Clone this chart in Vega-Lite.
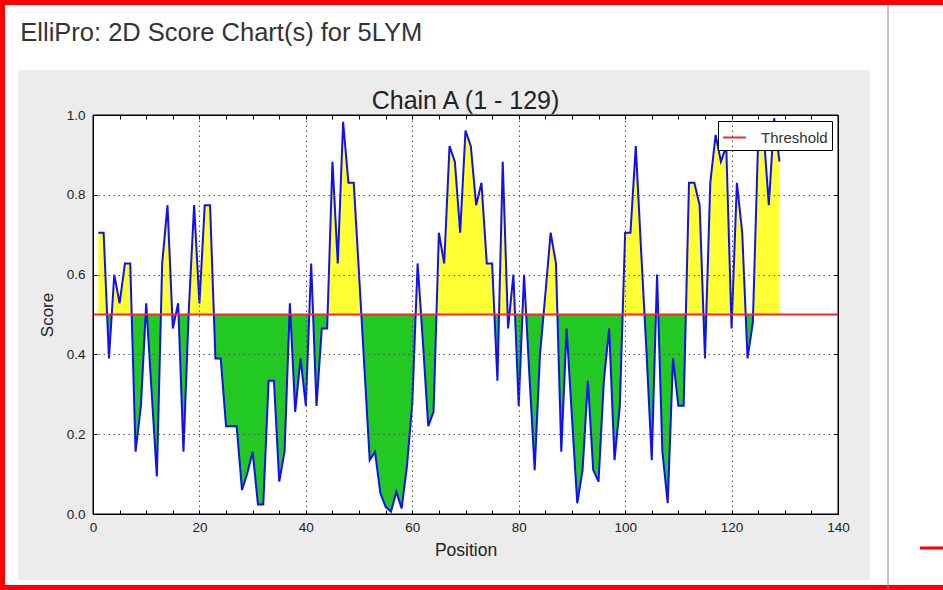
{
  "$schema": "https://vega.github.io/schema/vega-lite/v6.json",
  "autosize": "none",
  "width": 745,
  "height": 399,
  "padding": {"left": 93, "top": 115, "right": 105, "bottom": 76},
  "background": "white",
  "config": {
    "view": {"stroke": null},
    "font": "Liberation Sans"
  },
  "data": {
    "values": [
      {"position": 1, "score": 0.705}, {"position": 2, "score": 0.705}, {"position": 3, "score": 0.39}, {"position": 4, "score": 0.6},
      {"position": 5, "score": 0.528}, {"position": 6, "score": 0.628}, {"position": 7, "score": 0.628}, {"position": 8, "score": 0.156},
      {"position": 9, "score": 0.27}, {"position": 10, "score": 0.528}, {"position": 11, "score": 0.31}, {"position": 12, "score": 0.094},
      {"position": 13, "score": 0.628}, {"position": 14, "score": 0.774}, {"position": 15, "score": 0.465}, {"position": 16, "score": 0.528},
      {"position": 17, "score": 0.156}, {"position": 18, "score": 0.51}, {"position": 19, "score": 0.774}, {"position": 20, "score": 0.528},
      {"position": 21, "score": 0.774}, {"position": 22, "score": 0.774}, {"position": 23, "score": 0.39}, {"position": 24, "score": 0.39},
      {"position": 25, "score": 0.22}, {"position": 26, "score": 0.22}, {"position": 27, "score": 0.22}, {"position": 28, "score": 0.06},
      {"position": 29, "score": 0.102}, {"position": 30, "score": 0.156}, {"position": 31, "score": 0.024}, {"position": 32, "score": 0.024},
      {"position": 33, "score": 0.334}, {"position": 34, "score": 0.334}, {"position": 35, "score": 0.081}, {"position": 36, "score": 0.156},
      {"position": 37, "score": 0.528}, {"position": 38, "score": 0.256}, {"position": 39, "score": 0.39}, {"position": 40, "score": 0.271},
      {"position": 41, "score": 0.628}, {"position": 42, "score": 0.271}, {"position": 43, "score": 0.465}, {"position": 44, "score": 0.465},
      {"position": 45, "score": 0.883}, {"position": 46, "score": 0.628}, {"position": 47, "score": 0.983}, {"position": 48, "score": 0.83},
      {"position": 49, "score": 0.83}, {"position": 50, "score": 0.6}, {"position": 51, "score": 0.367}, {"position": 52, "score": 0.135},
      {"position": 53, "score": 0.156}, {"position": 54, "score": 0.052}, {"position": 55, "score": 0.018}, {"position": 56, "score": 0.006},
      {"position": 57, "score": 0.056}, {"position": 58, "score": 0.014}, {"position": 59, "score": 0.12}, {"position": 60, "score": 0.278},
      {"position": 61, "score": 0.628}, {"position": 62, "score": 0.43}, {"position": 63, "score": 0.22}, {"position": 64, "score": 0.256},
      {"position": 65, "score": 0.705}, {"position": 66, "score": 0.628}, {"position": 67, "score": 0.922}, {"position": 68, "score": 0.883},
      {"position": 69, "score": 0.705}, {"position": 70, "score": 0.961}, {"position": 71, "score": 0.922}, {"position": 72, "score": 0.774},
      {"position": 73, "score": 0.83}, {"position": 74, "score": 0.628}, {"position": 75, "score": 0.628}, {"position": 76, "score": 0.334},
      {"position": 77, "score": 0.883}, {"position": 78, "score": 0.465}, {"position": 79, "score": 0.6}, {"position": 80, "score": 0.271},
      {"position": 81, "score": 0.6}, {"position": 82, "score": 0.35}, {"position": 83, "score": 0.11}, {"position": 84, "score": 0.4},
      {"position": 85, "score": 0.55}, {"position": 86, "score": 0.705}, {"position": 87, "score": 0.628}, {"position": 88, "score": 0.156},
      {"position": 89, "score": 0.465}, {"position": 90, "score": 0.244}, {"position": 91, "score": 0.027}, {"position": 92, "score": 0.11},
      {"position": 93, "score": 0.334}, {"position": 94, "score": 0.11}, {"position": 95, "score": 0.081}, {"position": 96, "score": 0.334},
      {"position": 97, "score": 0.465}, {"position": 98, "score": 0.135}, {"position": 99, "score": 0.271}, {"position": 100, "score": 0.705},
      {"position": 101, "score": 0.705}, {"position": 102, "score": 0.922}, {"position": 103, "score": 0.66}, {"position": 104, "score": 0.41},
      {"position": 105, "score": 0.135}, {"position": 106, "score": 0.6}, {"position": 107, "score": 0.156}, {"position": 108, "score": 0.027},
      {"position": 109, "score": 0.39}, {"position": 110, "score": 0.271}, {"position": 111, "score": 0.271}, {"position": 112, "score": 0.83},
      {"position": 113, "score": 0.83}, {"position": 114, "score": 0.774}, {"position": 115, "score": 0.39}, {"position": 116, "score": 0.83},
      {"position": 117, "score": 0.95}, {"position": 118, "score": 0.883}, {"position": 119, "score": 0.922}, {"position": 120, "score": 0.465},
      {"position": 121, "score": 0.83}, {"position": 122, "score": 0.705}, {"position": 123, "score": 0.39}, {"position": 124, "score": 0.48},
      {"position": 125, "score": 0.94}, {"position": 126, "score": 0.96}, {"position": 127, "score": 0.774}, {"position": 128, "score": 0.992},
      {"position": 129, "score": 0.883}
    ]
  },
  "resolve": {"axis": {"x": "independent", "y": "independent"}},
  "layer": [
    {
      "data": {"values": [{}]},
      "mark": {"type": "rect", "fillOpacity": 0, "stroke": "#ff0000", "strokeWidth": 5},
      "encoding": {
        "x": {"datum": -17.0, "type": "quantitative", "scale": {"domain": [0, 140], "nice": false, "zero": false}, "axis": null},
        "x2": {"datum": 163},
        "y": {"datum": 1.282, "type": "quantitative", "scale": {"domain": [0, 1], "nice": false, "zero": false}, "axis": null},
        "y2": {"datum": -0.1842}
      }
    },
    {
      "data": {"values": [{}]},
      "mark": {"type": "rect", "fill": "#ececec"},
      "encoding": {
        "x": {"datum": -14.09, "type": "quantitative", "axis": null},
        "x2": {"datum": 146.0},
        "y": {"datum": 1.1128, "type": "quantitative", "axis": null},
        "y2": {"datum": -0.1654}
      }
    },
    {
      "data": {"values": [{}]},
      "mark": {"type": "rect", "fill": "white", "stroke": "black", "strokeWidth": 1},
      "encoding": {
        "x": {"datum": 0, "type": "quantitative", "axis": null},
        "x2": {"datum": 140},
        "y": {"datum": 1, "type": "quantitative", "axis": null},
        "y2": {"datum": 0}
      }
    },
    {
      "data": {"values": [{}]},
      "mark": {"type": "rule", "stroke": "#8a8a8a", "strokeWidth": 1},
      "encoding": {
        "x": {"datum": 149.4, "type": "quantitative", "axis": null},
        "y": {"datum": 1.276, "type": "quantitative", "axis": null},
        "y2": {"datum": -0.19}
      }
    },
    {
      "data": {"values": [{}]},
      "mark": {"type": "rule", "stroke": "#ff0000", "strokeWidth": 3},
      "encoding": {
        "x": {"datum": 155.4, "type": "quantitative", "axis": null},
        "x2": {"datum": 163},
        "y": {"datum": -0.0852, "type": "quantitative", "axis": null}
      }
    },
    {
      "mark": {
        "type": "area",
        "color": {
          "gradient": "linear", "x1": 0, "y1": 0, "x2": 0, "y2": 1,
          "stops": [
            {"offset": 0, "color": "#ffff33"},
            {"offset": 0.499, "color": "#ffff33"},
            {"offset": 0.499, "color": "#22c922"},
            {"offset": 1, "color": "#22c922"}
          ]
        }
      },
      "encoding": {
        "x": {
          "field": "position", "type": "quantitative",
          "axis": {
            "zindex": 1,
            "orient": "bottom", "values": [0, 5, 10, 15, 20, 25, 30, 35, 40, 45, 50, 55, 60, 65, 70, 75, 80, 85, 90, 95, 100, 105, 110, 115, 120, 125, 130, 135, 140],
            "labelExpr": "datum.value % 20 === 0 ? datum.label : ''",
            "title": "Position", "titleFontSize": 17.5, "titleFontWeight": "normal", "titleColor": "#222", "titlePadding": 8,
            "labelFontSize": 13.5, "labelColor": "#222", "labelPadding": 10, "labelFlush": false,
            "tickSize": -4, "tickColor": "black", "domainColor": "black",
            "grid": true, "gridColor": "#555", "gridDash": [1.5, 3.5],
            "gridOpacity": {"condition": {"test": "datum.value % 20 === 0 && datum.value > 0 && datum.value < 140", "value": 1}, "value": 0}
          }
        },
        "y": {
          "field": "score", "type": "quantitative",
          "axis": {
            "zindex": 1,
            "orient": "left", "values": [0, 0.2, 0.4, 0.6, 0.8, 1.0], "format": ".1f",
            "title": "Score", "titleFontSize": 17, "titleFontWeight": "normal", "titleColor": "#222", "titlePadding": 10,
            "labelFontSize": 13.5, "labelColor": "#222", "labelPadding": 12, "labelFlush": false,
            "tickSize": -4, "tickColor": "black", "domainColor": "black",
            "grid": true, "gridColor": "#555", "gridDash": [1.5, 3.5],
            "gridOpacity": {"condition": {"test": "datum.value > 0 && datum.value < 1", "value": 1}, "value": 0}
          }
        },
        "y2": {"datum": 0.5}
      }
    },
    {
      "mark": {"type": "line", "color": "#1010f0", "strokeWidth": 2},
      "encoding": {
        "x": {
          "field": "position", "type": "quantitative",
          "axis": {"zindex": 1, "orient": "top", "values": [0, 5, 10, 15, 20, 25, 30, 35, 40, 45, 50, 55, 60, 65, 70, 75, 80, 85, 90, 95, 100, 105, 110, 115, 120, 125, 130, 135, 140], "labels": false, "title": null, "grid": false, "tickSize": -4, "tickColor": "black", "domainColor": "black"}
        },
        "y": {
          "field": "score", "type": "quantitative",
          "axis": {"zindex": 1, "orient": "right", "values": [0, 0.2, 0.4, 0.6, 0.8, 1.0], "labels": false, "title": null, "grid": false, "tickSize": -4, "tickColor": "black", "domainColor": "black"}
        }
      }
    },
    {
      "data": {"values": [{}]},
      "mark": {"type": "rule", "strokeWidth": 2},
      "encoding": {
        "y": {"datum": 0.5, "type": "quantitative", "axis": null},
        "color": {
          "datum": "Threshold",
          "scale": {"range": ["#f52a2a"]},
          "legend": {
            "title": null, "orient": "top-right", "offset": 6,
            "symbolType": "stroke", "symbolSize": 529, "symbolStrokeWidth": 2,
            "labelFontSize": 15, "labelColor": "#333", "labelOffset": 14,
            "padding": 4, "strokeColor": "black", "fillColor": "white", "cornerRadius": 0
          }
        }
      }
    },
    {
      "data": {"values": [{"label": "Chain A (1 - 129)"}]},
      "mark": {"type": "text", "fontSize": 25, "color": "#222", "align": "center", "baseline": "middle"},
      "encoding": {
        "x": {"datum": 70, "type": "quantitative", "axis": null},
        "y": {"datum": 1.035, "type": "quantitative", "axis": null},
        "text": {"field": "label"}
      }
    },
    {
      "data": {"values": [{"label": "ElliPro: 2D Score Chart(s) for 5LYM"}]},
      "mark": {"type": "text", "fontSize": 25.5, "color": "#333", "align": "left", "baseline": "middle"},
      "encoding": {
        "x": {"datum": -13.66, "type": "quantitative", "axis": null},
        "y": {"datum": 1.2055, "type": "quantitative", "axis": null},
        "text": {"field": "label"}
      }
    }
  ]
}
